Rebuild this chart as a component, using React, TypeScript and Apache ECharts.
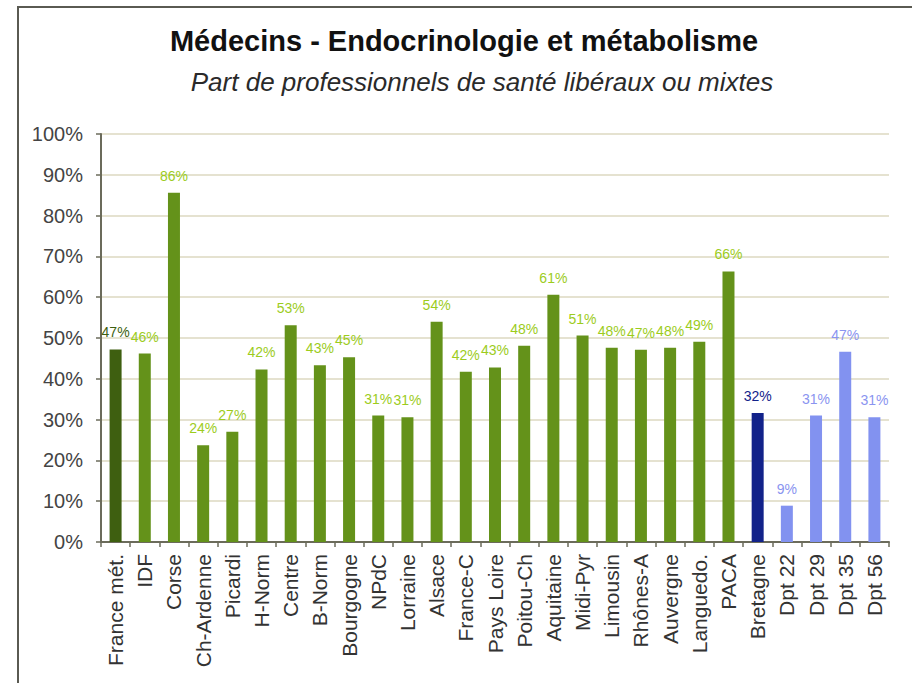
import React, { useEffect, useRef } from "react";
import * as echarts from "echarts";

const categories = [
  "France mét.", "IDF", "Corse", "Ch-Ardenne", "Picardi", "H-Norm", "Centre", "B-Norm",
  "Bourgogne", "NPdC", "Lorraine", "Alsace", "France-C", "Pays Loire", "Poitou-Ch",
  "Aquitaine", "Midi-Pyr", "Limousin", "Rhônes-A", "Auvergne", "Languedo.", "PACA",
  "Bretagne", "Dpt 22", "Dpt 29", "Dpt 35", "Dpt 56",
];
const values = [
  47.2, 46.2, 85.6, 23.7, 27.0, 42.3, 53.1, 43.3, 45.3, 31.0, 30.6, 54.0, 41.7, 42.8, 48.1,
  60.6, 50.6, 47.6, 47.1, 47.6, 49.1, 66.3, 31.6, 8.9, 31.0, 46.6, 30.6,
];
const groups = [
  "france", "region", "region", "region", "region", "region", "region", "region",
  "region", "region", "region", "region", "region", "region", "region",
  "region", "region", "region", "region", "region", "region", "region",
  "bretagne", "dpt", "dpt", "dpt", "dpt",
];
const yTicks = [0, 10, 20, 30, 40, 50, 60, 70, 80, 90, 100];

const barColors: Record<string, string> = {
  france: "#3e5f10",
  region: "#64921a",
  bretagne: "#12228a",
  dpt: "#8292f0",
};
const labelColors: Record<string, string> = {
  france: "#3e5f10",
  region: "#9ccc1c",
  bretagne: "#12228a",
  dpt: "#8a94f0",
};

export default function App() {
  const ref = useRef<HTMLDivElement>(null);
  useEffect(() => {
    document.body.style.margin = "0";
    if (!ref.current) return;
    const chart = echarts.init(ref.current, null, { renderer: "svg" });
    const font = "'Liberation Sans', Arial, sans-serif";
    chart.setOption({
      animation: false,
      backgroundColor: "#ffffff",
      textStyle: { fontFamily: font },
      title: [
        {
          text: "Médecins - Endocrinologie et métabolisme",
          left: 459,
          top: 21,
          textAlign: "center",
          textStyle: { fontFamily: font, fontSize: 29, fontWeight: "bold", color: "#111" },
        },
        {
          text: "Part de professionnels de santé libéraux ou mixtes",
          left: 477,
          top: 64,
          textAlign: "center",
          textStyle: { fontFamily: font, fontSize: 26, fontStyle: "italic", fontWeight: "normal", color: "#2a2a2a" },
        },
      ],
      graphic: [
        {
          type: "rect",
          shape: { x: 18, y: 7, width: 920, height: 700 },
          style: { fill: "none", stroke: "#5a5a52", lineWidth: 2 },
          silent: true,
        },
      ],
      grid: { left: 101, right: 23, top: 134, bottom: 141, containLabel: false },
      xAxis: {
        type: "category",
        data: categories,
        axisLine: { lineStyle: { color: "#6b6b5b", width: 2 } },
        axisTick: { show: true, length: 5, lineStyle: { color: "#6b6b5b", width: 1.5 } },
        axisLabel: {
          rotate: 90,
          interval: 0,
          margin: 12,
          fontSize: 21,
          color: "#333",
          fontFamily: font,
        },
      },
      yAxis: {
        type: "value",
        min: 0,
        max: 100,
        interval: 10,
        axisLine: { show: true, lineStyle: { color: "#6b6b5b", width: 2 } },
        axisTick: { show: true, length: 5, lineStyle: { color: "#6b6b5b", width: 1.5 } },
        splitLine: { show: true, lineStyle: { color: "#dcd8c0", width: 1.5 } },
        axisLabel: {
          formatter: (v: number) => (yTicks.includes(v) ? v + "%" : ""),
          fontSize: 20,
          margin: 18,
          color: "#444",
          fontFamily: font,
        },
      },
      series: [
        {
          type: "bar",
          barWidth: 12,
          data: values.map((v, i) => ({
            value: v,
            itemStyle: { color: barColors[groups[i]] },
            label: { color: labelColors[groups[i]] },
          })),
          label: {
            show: true,
            position: "top",
            distance: 10,
            fontSize: 14,
            fontFamily: font,
            formatter: (p: any) => Math.round(p.value) + "%",
          },
        },
      ],
    });
    return () => chart.dispose();
  }, []);
  return <div ref={ref} style={{ width: 912, height: 683 }} />;
}
